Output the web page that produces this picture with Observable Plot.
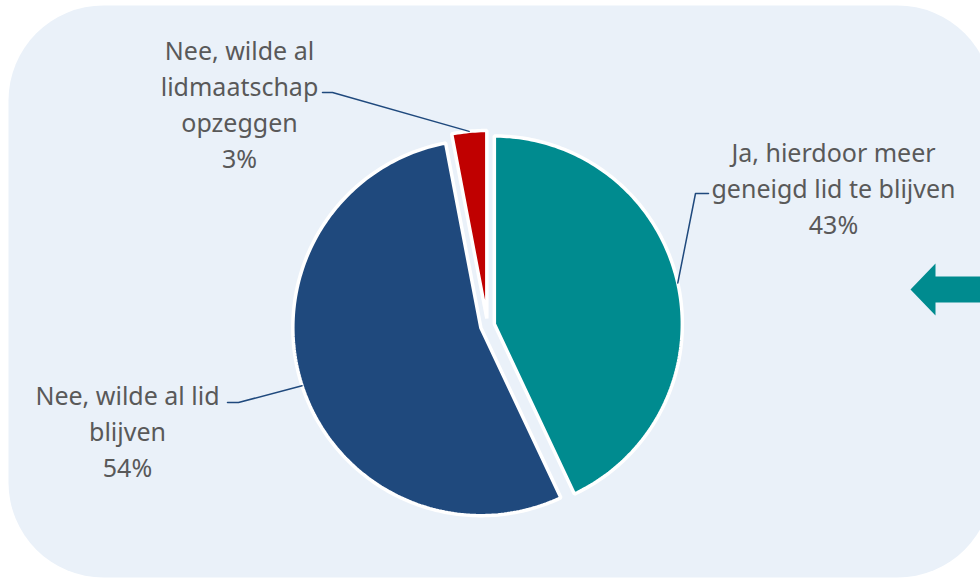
<!DOCTYPE html>
<html>
<head>
<meta charset="utf-8">
<script src="https://cdn.jsdelivr.net/npm/d3@7"></script>
<script src="https://cdn.jsdelivr.net/npm/@observablehq/plot@0.6"></script>
<style>
  html, body { margin: 0; padding: 0; background: #ffffff; }
  #chart svg { display: block; }
</style>
</head>
<body>
<div id="chart"></div>
<script>
// ---- data ----
const categories = ["Ja, hierdoor meer geneigd lid te blijven", "Nee, wilde al lid blijven", "Nee, wilde al lidmaatschap opzeggen"];
const values = [43, 54, 3];
const labelTexts = ["Ja, hierdoor meer\ngeneigd lid te blijven\n43%", "Nee, wilde al lid\nblijven\n54%", "Nee, wilde al\nlidmaatschap\nopzeggen\n3%"];
const colors = ["#008b8f", "#1f497d", "#c00000"];

// ---- layout (not data) ----
const W = 980, H = 578;
const cx = 487, cy = 325, R = 188, explode = 7;
const labelPos = [
  {x: 833, y: 186, tx: 708, elbowX: 695},
  {x: 127, y: 429, tx: 227, elbowX: 238},
  {x: 239, y: 102, tx: 322, elbowX: 332}
];
const labelLineY = [193, 402, 92];

const total = d3.sum(values);
let acc = 0;
const slicePts = [], leaders = [];
values.forEach((v, i) => {
  const a0 = acc / total * 2 * Math.PI;
  acc += v;
  const a1 = acc / total * 2 * Math.PI;
  const am = (a0 + a1) / 2;
  const ox = cx + explode * Math.sin(am), oy = cy - explode * Math.cos(am);
  slicePts.push({k: i, x: ox, y: oy, c: colors[i]});
  const n = Math.max(4, Math.ceil((a1 - a0) * 60));
  for (let j = 0; j <= n; j++) {
    const a = a0 + (a1 - a0) * j / n;
    slicePts.push({k: i, x: ox + R * Math.sin(a), y: oy - R * Math.cos(a), c: colors[i]});
  }
  const ex = ox + R * Math.sin(am), ey = oy - R * Math.cos(am);
  const lp = labelPos[i];
  leaders.push({k: i, x: lp.tx, y: labelLineY[i]});
  leaders.push({k: i, x: lp.elbowX, y: labelLineY[i]});
  leaders.push({k: i, x: ex, y: ey});
});

const labels = labelTexts.map((t, i) => ({text: t, x: labelPos[i].x, y: labelPos[i].y}));

// decorative block arrow at the right edge
const arrow = [
  {x: 910, y: 289}, {x: 935, y: 263}, {x: 935, y: 276}, {x: 990, y: 276},
  {x: 990, y: 302}, {x: 935, y: 302}, {x: 935, y: 315}
];

const chart = Plot.plot({
  width: W, height: H,
  margin: 0,
  x: {domain: [0, W], range: [0, W], axis: null},
  y: {domain: [0, H], range: [0, H], axis: null},
  color: {type: "identity"},
  style: {background: "transparent", fontFamily: "'Noto Sans', 'Open Sans', sans-serif"},
  marks: [
    Plot.frame({fill: "#eaf1f9", stroke: "none", rx: 95, insetLeft: 8, insetTop: 5, insetRight: -12, insetBottom: 1}),
    Plot.line(slicePts, {x: "x", y: "y", z: "k", fill: "c", stroke: "white", strokeWidth: 3.5, curve: "linear-closed", strokeLinejoin: "miter"}),
    Plot.line(leaders, {x: "x", y: "y", z: "k", stroke: "#1f497d", strokeWidth: 1.5}),
    Plot.text(labels, {x: "x", y: "y", text: "text", fill: "#595959", fontSize: 25, lineHeight: 1.44, textAnchor: "middle", lineAnchor: "middle"}),
    Plot.line(arrow, {x: "x", y: "y", fill: "#008b8f", stroke: "none", curve: "linear-closed"})
  ]
});
document.getElementById("chart").append(chart);
</script>
</body>
</html>
